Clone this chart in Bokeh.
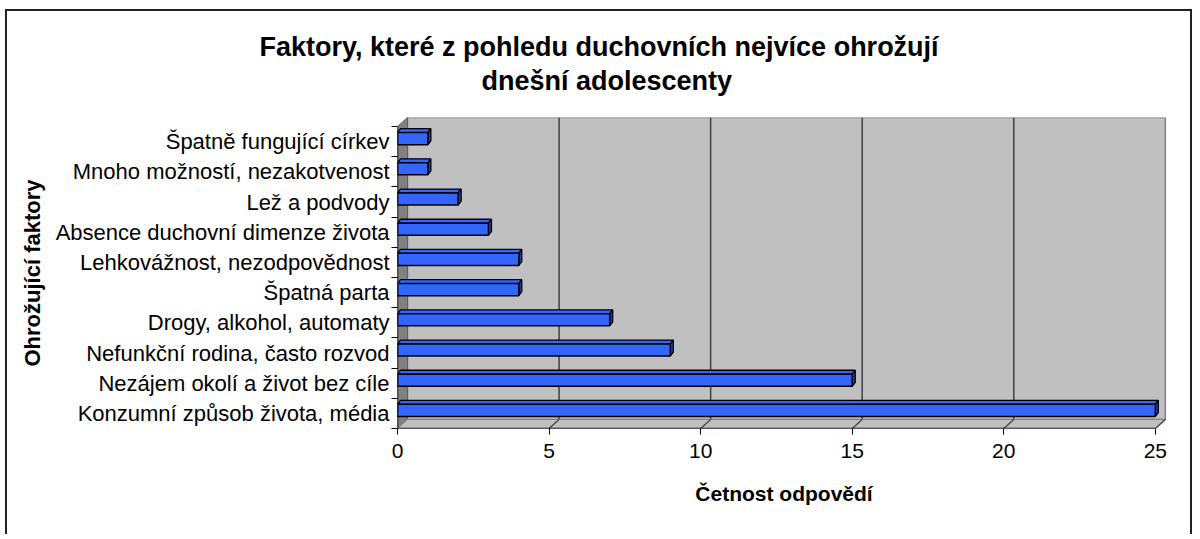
from bokeh.plotting import figure
from bokeh.models import Range1d, FixedTicker, Title
from bokeh.embed import file_html
from bokeh.resources import INLINE

# ---------------- data ----------------
categories = [
    "Špatně fungující církev",
    "Mnoho možností, nezakotvenost",
    "Lež a podvody",
    "Absence duchovní dimenze života",
    "Lehkovážnost, nezodpovědnost",
    "Špatná parta",
    "Drogy, alkohol, automaty",
    "Nefunkční rodina, často rozvod",
    "Nezájem okolí a život bez cíle",
    "Konzumní způsob života, média",
]
values = [1, 1, 2, 3, 4, 4, 7, 9, 15, 25]
x_ticks = [0, 5, 10, 15, 20, 25]
title_lines = ["Faktory, které z pohledu duchovních nejvíce ohrožují", "dnešní adolescenty"]
x_title = "Četnost odpovědí"
y_title = "Ohrožující faktory"

# ---------------- geometry (style) ----------------
FONT = "Liberation Sans"
n = len(categories)
pos = [n - 1 - i for i in range(n)]      # first category at top
XMAX = x_ticks[-1]
DX, DY = 0.33, 0.30    # depth of the 3D box
BX, BY = 0.10, 0.13    # depth of the bars
H, OFF = 0.40, 0.10    # bar thickness and offset
Y0, Y1 = -0.5, n - 0.5

p = figure(width=1187, height=525,
           x_range=Range1d(0, XMAX + 0.5), y_range=Range1d(Y0, Y1 + DY),
           output_backend="svg", toolbar_location=None, title_location=None,
           min_border_left=390, min_border_right=24,
           min_border_top=106, min_border_bottom=108)
p.outline_line_color = None
p.grid.visible = False
p.background_fill_color = "white"
p.border_fill_color = "white"
p.styles = {"margin-left": "5px", "margin-top": "9px",
            "border-left": "2px solid #222", "border-top": "2px solid #222",
            "border-right": "2px solid #222"}

# back wall
p.quad(left=[DX], right=[XMAX + DX], bottom=[Y0 + DY], top=[Y1 + DY],
       fill_color="#C0C0C0", line_color="#808080", line_width=1.5)
# grid lines on the back wall
gx = [t + DX for t in x_ticks[1:-1]]
p.segment(x0=gx, y0=[Y0 + DY] * len(gx), x1=gx, y1=[Y1 + DY] * len(gx),
          line_color="#404040", line_width=1.5)
# side wall
p.patch([0, DX, DX, 0], [Y0, Y0 + DY, Y1 + DY, Y1],
        fill_color="#808080", line_color="#606060", line_width=1)
# floor
p.patch([0, XMAX, XMAX + DX, DX], [Y0, Y0, Y0 + DY, Y0 + DY],
        fill_color="#C0C0C0", line_color="#808080", line_width=1)
fx = x_ticks[1:]
p.segment(x0=fx, y0=[Y0] * len(fx), x1=[t + DX for t in fx], y1=[Y0 + DY] * len(fx),
          line_color="#404040", line_width=1.2)

# bars (3D)
tops_x, tops_y, side_x, side_y = [], [], [], []
for c, v in zip(pos, values):
    b = c + OFF - H / 2
    t = c + OFF + H / 2
    tops_x.append([0, v, v + BX, BX])
    tops_y.append([t, t, t + BY, t + BY])
    side_x.append([v, v, v + BX, v + BX])
    side_y.append([b, t, t + BY, b + BY])
p.patches(tops_x, tops_y, fill_color="#3366FF", line_color="black", line_width=1.3)
p.patches(side_x, side_y, fill_color="#1F3FA8", line_color="black", line_width=1.3)
p.quad(left=[0] * n, right=values,
       bottom=[c + OFF - H / 2 for c in pos], top=[c + OFF + H / 2 for c in pos],
       fill_color="#3366FF", line_color="black", line_width=1.5)

# axis lines
p.segment(x0=[0, 0], y0=[Y0, Y0], x1=[0, XMAX], y1=[Y1, Y0],
          line_color="black", line_width=1.5)

# x axis
xa = p.xaxis[0]
xa.ticker = FixedTicker(ticks=x_ticks)
xa.axis_line_color = None
xa.major_tick_out = 6
xa.major_tick_in = 0
xa.major_tick_line_color = "black"
xa.minor_tick_line_color = None
xa.major_label_standoff = 9
xa.major_label_text_font = FONT
xa.major_label_text_font_size = "21px"
xa.major_label_text_color = "black"
xa.axis_label = x_title
xa.axis_label_text_font = FONT
xa.axis_label_text_font_size = "21px"
xa.axis_label_text_font_style = "bold"
xa.axis_label_text_color = "black"
xa.axis_label_standoff = 21

# y axis
ya = p.yaxis[0]
ya.ticker = FixedTicker(ticks=pos, minor_ticks=[k - 0.5 for k in range(n + 1)])
ya.major_label_overrides = {c: lab for c, lab in zip(pos, categories)}
ya.axis_line_color = None
ya.major_tick_line_color = None
ya.major_tick_out = 0
ya.major_tick_in = 0
ya.minor_tick_out = 6
ya.minor_tick_in = 0
ya.minor_tick_line_color = "black"
ya.major_label_standoff = 2
ya.major_label_text_font = FONT
ya.major_label_text_font_size = "22px"
ya.major_label_text_color = "black"
ya.axis_label = y_title
ya.axis_label_text_font = FONT
ya.axis_label_text_font_size = "22px"
ya.axis_label_text_font_style = "bold"
ya.axis_label_text_color = "black"
ya.axis_label_standoff = 8

# title: spacer, second line, first line (stacked outward from the frame)
p.add_layout(Title(text=" ", text_font_size="15px", standoff=2), "above")
p.add_layout(Title(text=title_lines[1], align="left", offset=84,
                   text_font=FONT, text_font_size="27px", text_font_style="bold",
                   text_color="black", standoff=2), "above")
p.add_layout(Title(text=title_lines[0], align="left", offset=-138,
                   text_font=FONT, text_font_size="27px", text_font_style="bold",
                   text_color="black", standoff=2), "above")

open("out.html", "w").write(file_html(p, INLINE))
